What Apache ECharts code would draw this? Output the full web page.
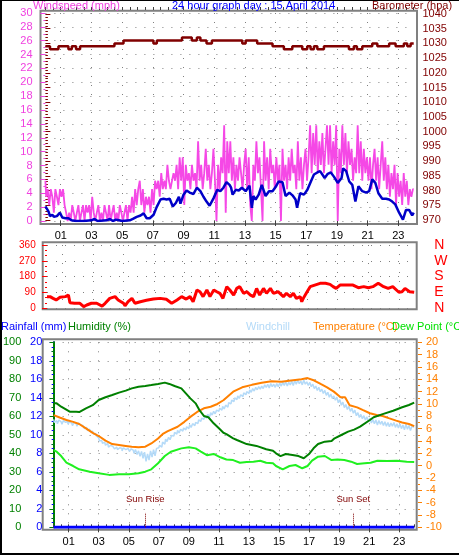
<!DOCTYPE html>
<html><head><meta charset="utf-8">
<script src="https://cdn.jsdelivr.net/npm/echarts@6/dist/echarts.min.js"></script>
<style>
html,body{margin:0;padding:0;background:#fff;}
#wrap{position:relative;width:459px;height:555px;background:#fff;}
#border{position:absolute;left:0;top:0;width:459px;height:555px;box-sizing:border-box;border-top:1px solid #000;border-left:2px solid #000;border-bottom:2px solid #000;}
#chart{position:absolute;left:0;top:0;width:459px;height:555px;}
</style></head>
<body>
<div id="wrap"><div id="border"></div><div id="chart"></div></div>
<script>
// ---------- data ----------
const hourTicks = [1,3,5,7,9,11,13,15,17,19,21,23];
const stepHours = 0.1; // sampling step of gust / windchill lists
// wind gust (mph), every 6 minutes from 00:00
const gustValues = [
5.8,3.5,4.6,2.3,4.6,3.5,1.2,4.6,3.5,2.3,4.6,3.5,
4.6,2.3,
1.2,0,1.2,0,2.3,1.2,0,1.2,2.3,0,1.2,
2.3,0,2.3,1.2,2.3,
0,3.5,1.2,
0,1.2,2.3,0,1.2,0,2.3,1.2,0,2.3,0,1.2,2.3,0,1.2,0,2.3,1.2,0,1.2,2.3,0,
2.3,1.2,3.5,1.2,
4.6,2.3,4.6,5.8,
2.3,4.6,1.2,3.5,2.3,
3.5,1.2,4.6,2.3,
5.8,4.6,5.8,3.5,
6.9,4.6,5.8,4.6,8.1,5.8,4.6,5.8,
6.9,5.8,8.1,4.6,9.2,
5.8,9.2,2.3,8.1,
5.8,6.9,4.6,8.1,5.8,6.9,4.6,
11.5,5.8,8.1,4.6,6.9,10.4,
5.8,8.1,4.6,6.9,
10.4,5.8,0,8.1,4.6,9.2,6.9,
13.8,1.2,11.5,
6.9,11.5,5.8,9.2,4.6,8.1,5.8,9.2,6.9,4.6,
8.1,10.4,4.6,9.2,2.3,0,8.1,5.8,11.5,
6.9,9.2,4.6,0,
11.5,5.8,9.2,4.6,10.4,6.9,8.1,4.6,9.2,5.8,8.1,
0,
10.4,5.8,8.1,4.6,9.2,5.8,10.4,6.9,8.1,4.6,11.5,5.8,
9.2,4.6,8.1,10.4,5.8,9.2,
13.8,6.9,12.7,8.1,13.8,6.9,11.5,
8.1,12.7,6.9,10.4,13.8,8.1,13.8,6.9,11.5,
8.1,13.8,0,10.4,
6.9,13.8,8.1,12.7,
6.9,11.5,8.1,10.4,5.8,9.2,6.9,
13.8,6.9,11.5,5.8,10.4,6.9,9.2,
5.8,9.2,4.6,8.1,10.4,5.8,9.2,4.6,8.1,11.5,5.8,9.2,4.6,
8.1,3.5,6.9,4.6,8.1,2.3,6.9,3.5,
5.8,2.3,6.9,3.5,5.8,2.3,4.6,3.5,4.6
];
// average wind speed (mph): [hour, value]
const windAvg = [[0,2.1],[0.1,1.9],[0.2,1.4],[0.3,0.7],[0.45,0.9],[0.55,0.6],[0.75,0.7],[0.95,1.2],[1.1,0.5],[1.3,0.4],[1.5,0.4],[1.7,0.1],[2,0],[2.5,0],[3.0,0.1],[3.2,0.3],[3.4,0],[4.0,0.1],[4.2,0.3],[4.4,0],[4.6,0.2],[4.8,0.1],[5.0,0],[5.5,0.1],[5.7,0.3],[5.95,0.6],[6.2,0.8],[6.4,1.1],[6.6,0.4],[6.8,0.4],[7.05,0.9],[7.25,2.0],[7.5,3.1],[7.7,3.2],[7.9,3.1],[8.1,3.2],[8.3,2.1],[8.5,2.6],[8.7,3.5],[8.8,2.5],[9.0,3.8],[9.2,4.4],[9.4,4.1],[9.65,3.9],[9.87,4.8],[10.1,4.3],[10.3,3.5],[10.5,2.8],[10.7,2.2],[10.96,3.3],[11.2,4.5],[11.4,4.3],[11.6,4.8],[11.8,5.6],[12.0,5.2],[12.1,4.8],[12.2,3.8],[12.4,4.5],[12.6,4.4],[12.8,4.8],[13.05,4.3],[13.3,5.1],[13.45,1.9],[13.55,3.6],[13.7,3.1],[13.9,3.8],[14.1,5.2],[14.35,3.6],[14.57,4.3],[14.8,4.3],[15.0,4.9],[15.2,5.7],[15.45,5.6],[15.65,3.6],[15.9,4.1],[16.1,3.7],[16.3,3.1],[16.4,1.9],[16.6,4.0],[16.85,3.8],[17.07,4.5],[17.3,5.7],[17.5,6.7],[17.72,7.0],[17.9,7.2],[18.2,6.2],[18.4,6.8],[18.6,7.0],[18.8,6.4],[19.05,5.5],[19.3,6.2],[19.4,7.6],[19.6,7.2],[19.8,5.7],[20.0,5.2],[20.2,2.8],[20.4,5.0],[20.65,4.3],[20.9,4.1],[21.1,4.3],[21.3,6.0],[21.5,5.5],[21.7,4.0],[21.95,3.2],[22.2,3.2],[22.4,3.1],[22.6,2.8],[22.8,2.4],[23.05,1.2],[23.3,0.2],[23.5,1.6],[23.7,1.6],[23.9,0.8],[24,1.2]];
// barometer (hpa): [hour, value] step changes
const baro = [[0,1029],[0.3,1028],[0.85,1029],[1.5,1028],[1.72,1029],[2.0,1028],[2.26,1029],[4.5,1030],[5.09,1031],[7.04,1030],[7.26,1031],[8.9,1032],[9.54,1031],[9.87,1032],[10.1,1031],[10.5,1030],[10.85,1031],[12.83,1030],[13.05,1031],[13.8,1030],[14.8,1029],[15.54,1028],[16.09,1029],[16.74,1028],[17.06,1029],[17.28,1028],[17.5,1029],[17.72,1028],[18.15,1029],[19.78,1028],[20.1,1029],[20.3,1028],[20.65,1029],[21.3,1030],[21.63,1029],[22.4,1030],[22.82,1029],[23.36,1030],[23.58,1029],[23.8,1030],[24,1030]];
// wind direction (degrees): [hour, value]
const windDir = [[0,65],[0.2,65],[0.4,55],[0.6,46],[0.85,61],[1.2,65],[1.4,74],[1.5,30],[1.8,27],[2.15,27],[2.4,8],[2.6,17],[2.9,27],[3.25,27],[3.6,11],[3.8,27],[4.1,55],[4.45,65],[4.65,46],[5.0,27],[5.1,13],[5.3,36],[5.55,55],[5.75,27],[6.1,36],[6.5,44],[6.95,51],[7.4,55],[7.8,50],[8.15,27],[8.5,46],[8.8,65],[9.1,51],[9.35,65],[9.55,36],[9.8,103],[10.0,93],[10.2,65],[10.45,103],[10.65,65],[10.9,103],[11.1,93],[11.3,84],[11.5,55],[11.75,122],[11.95,103],[12.2,74],[12.4,112],[12.6,122],[12.85,84],[13.05,93],[13.3,74],[13.5,65],[13.7,112],[13.9,74],[14.15,112],[14.35,84],[14.6,112],[14.8,84],[15.1,93],[15.45,65],[15.65,84],[15.9,65],[16.1,84],[16.3,55],[16.55,65],[16.65,36],[16.75,55],[17.0,93],[17.2,122],[17.5,131],[17.85,141],[18.2,141],[18.5,135],[18.7,122],[18.9,112],[19.15,131],[19.6,131],[20.0,131],[20.35,116],[20.7,122],[21.0,116],[21.3,122],[21.65,141],[22.0,122],[22.3,112],[22.6,122],[23.0,90],[23.2,93],[23.4,112],[23.7,93],[24.0,90]];
// temperature (°C)
const temperature = [[0,8.2],[0.4,7.8],[0.85,7.4],[1.3,7.1],[1.7,6.75],[2.15,6.05],[2.6,5.3],[3.0,4.8],[3.45,4.05],[3.9,3.5],[4.35,3.35],[4.8,3.2],[5.2,3.07],[5.65,3.0],[6.1,3.07],[6.5,3.6],[6.95,4.4],[7.3,5.2],[7.6,5.6],[8.25,6.3],[8.7,7.1],[9.1,7.9],[9.55,8.7],[10.0,9.3],[10.45,9.55],[10.9,10.0],[11.3,10.6],[11.95,12.0],[12.55,12.7],[13.2,13.1],[13.85,13.45],[14.5,13.7],[15.15,13.6],[15.8,13.8],[16.5,14.0],[16.9,14.2],[17.35,13.8],[17.8,13.2],[18.2,12.7],[18.65,12.0],[19.1,11.1],[19.4,11.1],[19.7,9.8],[20.2,9.45],[20.6,9.0],[21.05,8.5],[21.5,8.2],[21.9,8.05],[22.3,7.7],[22.8,7.3],[23.2,7.0],[23.65,6.75],[24,6.4]];
// windchill (°C), every 6 minutes from 00:00
const windchillValues = [
7.5,7.0,7.3,6.8,7.4,7.1,6.7,7.3,7.0,7.2,
6.7,7.1,6.9,6.5,7.0,6.8,6.4,6.9,6.6,6.5,
6.3,6.0,6.2,5.7,5.9,5.5,5.6,5.1,5.2,4.8,
4.5,4.0,4.1,3.6,3.8,3.3,3.6,3.0,3.3,3.1,
3.1,2.7,3.0,2.6,2.9,2.8,2.4,2.9,2.6,2.8,
2.8,2.3,2.7,2.5,2.0,2.6,1.8,2.4,1.5,2.3,
1.2,2.2,0.7,1.9,0.9,2.4,1.4,2.6,1.6,2.8,
2.9,3.3,3.0,3.8,3.5,4.3,3.9,4.6,4.2,4.9,
4.8,5.4,5.1,5.7,5.3,5.9,5.6,6.1,5.8,6.3,
6.0,6.6,6.2,6.8,6.5,7.0,6.8,7.4,7.2,7.7,
7.5,8.0,7.7,8.3,8.0,8.6,8.2,8.8,8.4,9.0,
8.8,9.3,9.0,9.6,9.2,9.8,9.5,10.2,10.0,10.6,
10.4,11.0,10.7,11.3,10.9,11.5,11.2,11.8,11.5,12.0,
11.7,12.3,11.9,12.5,12.1,12.7,12.3,12.8,12.4,12.9,
12.5,13.1,12.7,13.2,12.6,13.3,12.8,13.2,12.7,13.3,
12.8,13.4,12.9,13.5,13.0,13.6,12.9,13.5,13.1,13.7,
13.0,13.8,13.2,13.9,13.3,13.7,13.1,13.9,13.2,13.6,
13.0,13.5,12.8,13.2,12.5,12.9,12.2,12.7,12.0,12.4,
11.7,12.2,11.4,11.9,11.1,11.6,10.9,11.3,10.6,11.1,
10.2,10.7,9.8,10.3,9.4,9.9,9.1,9.6,8.8,9.3,
8.5,9.0,8.1,8.6,7.8,8.3,7.6,8.1,7.4,7.9,
7.1,7.7,6.9,7.5,6.8,7.4,6.6,7.3,6.7,7.2,
6.5,7.1,6.4,7.0,6.3,6.9,6.4,7.0,6.2,6.8,
6.1,6.8,6.0,6.6,5.8,6.7,5.9,6.5,5.7,6.4,
6.2
];
// humidity (%)
const humidity = [[0,67],[0.2,67],[0.5,65.2],[1.07,62.5],[1.5,62.5],[1.7,62.3],[2.15,64.3],[2.6,66],[3.0,68.8],[3.45,70.3],[3.9,71.5],[4.35,72.8],[4.8,73.9],[5.2,75.1],[5.65,76],[6.1,76.4],[6.5,76.9],[6.95,77.5],[7.4,78.2],[7.7,77.5],[8.05,76.4],[8.5,75.1],[8.8,72.4],[9.1,69.7],[9.45,67],[9.7,63.4],[10.0,60.2],[10.3,59.5],[10.65,56.2],[11.0,53.5],[11.3,51.1],[11.5,50.4],[11.95,48.1],[12.2,47.2],[12.85,45],[13.5,44],[14.15,42.2],[14.6,41.4],[14.8,40],[15.1,38.5],[15.45,39.6],[15.9,39.1],[16.3,38.5],[16.65,37.3],[17.0,39.6],[17.3,42.7],[17.6,45],[18.05,46.3],[18.5,46.6],[18.7,48.1],[19.15,49.9],[19.6,51.7],[20.0,52.8],[20.4,54.4],[21.05,58],[21.3,59.5],[21.9,61.2],[22.6,63],[23.2,64.9],[23.65,66.1],[24,67.4]];
// dew point (°C)
const dewPoint = [[0,2.5],[0.2,2.26],[0.5,1.56],[0.85,0.48],[1.3,-0.06],[1.7,-0.6],[2.4,-0.98],[3.0,-1.24],[3.7,-1.5],[4.35,-1.4],[5.0,-1.4],[5.65,-1.24],[6.1,-0.98],[6.5,-0.6],[6.95,0.38],[7.4,1.56],[7.8,2.26],[8.5,2.8],[9.0,2.97],[9.45,2.8],[9.8,2.26],[10.2,1.7],[10.65,1.9],[11.1,1.35],[11.5,1.0],[11.95,0.9],[12.4,0.47],[12.85,0.6],[13.3,0.64],[13.75,0.8],[14.15,0.47],[14.6,0.38],[14.8,-0.06],[15.25,-0.6],[15.7,-0.06],[16.1,0.1],[16.55,-0.43],[16.9,-0.06],[17.2,0.8],[17.6,1.45],[18.05,1.56],[18.5,0.9],[18.9,1.0],[19.35,0.9],[19.8,0.64],[20.2,0.27],[20.7,0.38],[21.1,0.47],[21.55,0.8],[22.2,0.75],[22.85,0.8],[23.5,0.64],[24,0.6]];
// rainfall (mm)
const rainfall = [[0,0],[24,0]];
// sun events
const sunEvents = [['Sun Rise',6.1],['Sun Set',19.95]];
const sunMarkerHeight = 1.55; // mm on rainfall axis
// axis tick labels
const dirTicks = [0,90,180,270,360];
const dirLetters = ['N','E','S','W','N'];

// ---------- chart ----------
const FONT = 'Liberation Sans, Arial, sans-serif';
const GRAY = '#808080';
const dotted = {show:true, lineStyle:{color:GRAY, type:[1,8], width:1}};
const hourFmt = v => (v < 10 ? '0' : '') + v;
const plain = v => String(v);
const series = (o) => Object.assign({type:'line', symbol:'none', silent:true, animation:false}, o);

const gust = gustValues.map((v,i)=>[+(i*stepHours).toFixed(2), v]);
const windchill = windchillValues.map((v,i)=>[+(i*stepHours).toFixed(2), v]);

function hourAxis(grid, showLabels, offset, margin){
  return {type:'value', gridIndex:grid, min:0, max:24, offset:offset,
    axisLine:{show:false},
    axisTick:{show:showLabels, customValues:hourTicks, length:5, lineStyle:{color:'#404040'}},
    axisLabel:{show:showLabels, customValues:hourTicks, formatter:hourFmt, color:'#000', fontSize:11, fontFamily:FONT, margin:margin},
    splitLine:dotted};
}
function minorAxis(grid, offset){
  return {type:'value', gridIndex:grid, min:0, max:24, interval:0.5, offset:offset,
    axisLine:{show:false}, axisLabel:{show:false}, splitLine:{show:false},
    axisTick:{show:true, length:3, lineStyle:{color:'#404040'}}};
}
const ttl = (text, left, top, color) => ({text, left, top, padding:0,
  textStyle:{color, fontSize:11, fontWeight:'normal', fontFamily:FONT}});

const option = {
  animation:false,
  backgroundColor:'transparent',
  title:[
    ttl('Windspeed (mph)', 33, 0, '#F040E0'),
    ttl('24 hour graph day : 15 April 2014', 172, 0, '#0000FF'),
    ttl('Barometer (hpa)', 372, 0, '#800000'),
    ttl('Rainfall (mm)', 1, 321.5, '#0000FF'),
    ttl('Humidity (%)', 68, 321.5, '#008000'),
    ttl('Windchill', 246, 321.5, '#B4DAF8'),
    ttl('Temperature (°C)', 313, 321.5, '#FF8000'),
    ttl('Dew Point (°C)', 392, 321.5, '#00E000')
  ],
  grid:[
    {left:40.5, top:10.7, width:376.5, height:213.3, show:true, borderColor:GRAY, borderWidth:2, backgroundColor:'transparent', z:0}, // 0 frame top
    {left:45.4, top:13, width:368.3, height:208}, // 1 wind
    {left:45.4, top:14, width:368.3, height:206}, // 2 baro
    {left:42.7, top:242.3, width:374, height:67, show:true, borderColor:GRAY, borderWidth:2, backgroundColor:'transparent', z:0}, // 3 frame middle
    {left:47, top:245, width:367.2, height:63}, // 4 direction
    {left:42.7, top:339.3, width:374, height:190.5, show:true, borderColor:GRAY, borderWidth:2, backgroundColor:'transparent', z:0}, // 5 frame bottom
    {left:47, top:342.3, width:367.2, height:185} // 6 temps
  ],
  xAxis:[
    hourAxis(1, true, 3, 6),          // 0
    minorAxis(1, 3),                  // 1
    {type:'value', gridIndex:2, min:0, max:24, show:false}, // 2
    hourAxis(4, false, 1, 6),         // 3
    hourAxis(6, true, 2, 7),          // 4
    minorAxis(6, 2)                   // 5
  ],
  yAxis:[
    {type:'value', gridIndex:1, min:0, max:30, interval:2, position:'left', offset:4.9,
      axisLine:{show:false}, axisTick:{show:true, length:5, lineStyle:{color:'#F040E0'}},
      minorTick:{show:true, splitNumber:2, length:2, lineStyle:{color:'#F040E0'}},
      axisLabel:{color:'#F040E0', fontSize:11, fontFamily:FONT, margin:8, formatter:plain}, splitLine:dotted},
    {type:'value', gridIndex:2, min:970, max:1040, interval:5, position:'right', offset:3.8,
      axisLine:{show:false}, axisTick:{show:true, length:5, lineStyle:{color:'#800000'}},
      minorTick:{show:true, splitNumber:5, length:2.5, lineStyle:{color:'#800000'}},
      axisLabel:{color:'#800000', fontSize:11, fontFamily:FONT, margin:5, formatter:plain}, splitLine:{show:false}},
    {type:'value', gridIndex:4, min:0, max:360, interval:90, position:'left', offset:4.3,
      axisLine:{show:false}, axisTick:{show:true, length:5, lineStyle:{color:'#FF0000'}},
      minorTick:{show:true, splitNumber:3, length:2, lineStyle:{color:'#FF0000'}},
      axisLabel:{color:'#FF0000', fontSize:10, fontFamily:FONT, margin:7, formatter:plain}, splitLine:dotted},
    {type:'value', gridIndex:4, min:0, max:360, interval:90, position:'right', offset:0,
      axisLine:{show:false}, axisTick:{show:false}, splitLine:{show:false},
      axisLabel:{color:'#FF0000', fontSize:14, fontFamily:FONT, margin:20, formatter:v=>dirLetters[dirTicks.indexOf(v)]}},
    {type:'value', gridIndex:6, min:0, max:20, interval:2, position:'left', offset:4.3,
      axisLine:{show:true, lineStyle:{color:'#0000FF', width:2}}, axisTick:{show:true, length:4, lineStyle:{color:'#0000FF'}},
      minorTick:{show:true, splitNumber:4, length:2, lineStyle:{color:'#0000FF'}},
      axisLabel:{color:'#0000FF', fontSize:11, fontFamily:FONT, margin:7, formatter:plain}, splitLine:dotted},
    {type:'value', gridIndex:6, min:0, max:100, interval:10, position:'left', offset:25.3,
      axisLine:{show:true, lineStyle:{color:'#008000', width:2}}, axisTick:{show:true, length:4, lineStyle:{color:'#008000'}},
      minorTick:{show:true, splitNumber:2, length:2, lineStyle:{color:'#008000'}},
      axisLabel:{color:'#008000', fontSize:11, fontFamily:FONT, margin:7, formatter:plain}, splitLine:{show:false}},
    {type:'value', gridIndex:6, min:-10, max:20, interval:2, position:'right', offset:3.8,
      axisLine:{show:false}, axisTick:{show:true, length:4, lineStyle:{color:'#FF8000'}},
      minorTick:{show:true, splitNumber:2, length:2, lineStyle:{color:'#FF8000'}},
      axisLabel:{color:'#FF8000', fontSize:11, fontFamily:FONT, margin:8, formatter:plain}, splitLine:{show:false}}
  ],
  series:[
    series({name:'gust', xAxisIndex:0, yAxisIndex:0, data:gust, step:'middle', lineStyle:{color:'#F548E6', width:1.8}, z:2}),
    series({name:'avg', xAxisIndex:0, yAxisIndex:0, data:windAvg, lineStyle:{color:'#0000C8', width:2.5}, z:3}),
    series({name:'baro', xAxisIndex:2, yAxisIndex:1, data:baro, step:'end', lineStyle:{color:'#800000', width:2.5}, z:3}),
    series({name:'dir', xAxisIndex:3, yAxisIndex:2, data:windDir, lineStyle:{color:'#FF0000', width:3}, z:3}),
    series({name:'windchill', xAxisIndex:4, yAxisIndex:6, data:windchill, step:'middle', lineStyle:{color:'#B4DAF8', width:1.5}, z:2}),
    series({name:'temp', xAxisIndex:4, yAxisIndex:6, data:temperature, lineStyle:{color:'#FF8000', width:2}, z:3}),
    series({name:'hum', xAxisIndex:4, yAxisIndex:5, data:humidity, lineStyle:{color:'#008000', width:2}, z:3}),
    series({name:'dew', xAxisIndex:4, yAxisIndex:6, data:dewPoint, lineStyle:{color:'#20F020', width:2}, z:3}),
    series({name:'rain', xAxisIndex:4, yAxisIndex:4, data:rainfall, lineStyle:{color:'#0000FF', width:3}, z:4,
      markLine:{silent:true, symbol:['none','none'], animation:false,
        lineStyle:{color:'#800000', type:'dotted', width:1},
        label:{show:true, position:'end', distance:9, color:'#800000', fontSize:9.5, fontFamily:FONT, formatter:p=>p.name},
        data:sunEvents.map(s=>[{name:s[0], coord:[s[1],0]},{coord:[s[1],sunMarkerHeight]}])}})
  ]
};
const chart = echarts.init(document.getElementById('chart'), null, {renderer:'canvas'});
chart.setOption(option);
</script>
</body></html>
